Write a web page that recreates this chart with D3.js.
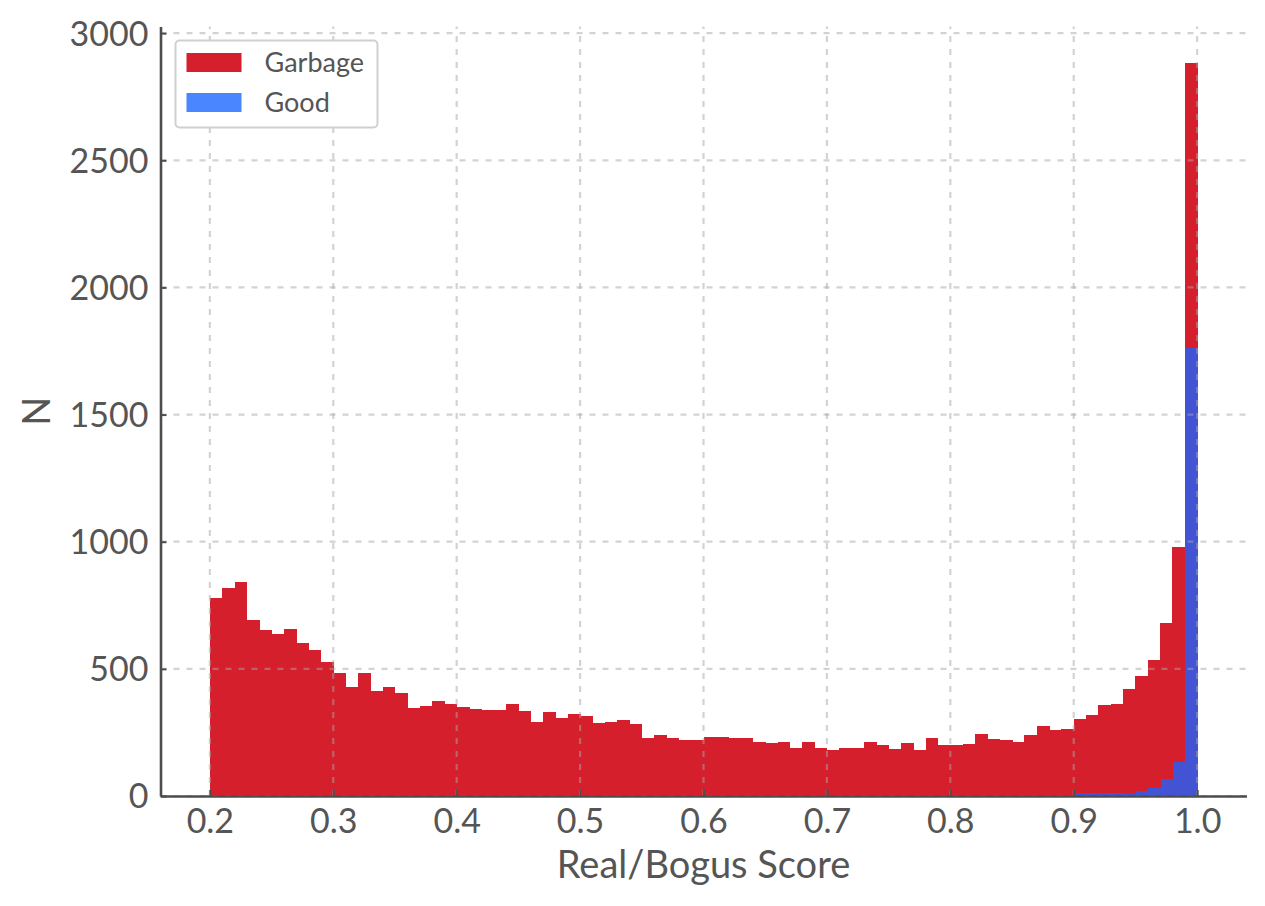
<!DOCTYPE html>
<html>
<head>
<meta charset="utf-8">
<script src="https://cdn.jsdelivr.net/npm/d3@7"></script>
<style>
  body { margin: 0; background: #fff; }
  svg text { font-family: Lato, "Open Sans", sans-serif; }
</style>
</head>
<body>
<svg id="chart" width="1265" height="906"></svg>
<script>
// histogram bins: 0.20 .. 1.00, width 0.01
var binStart = 0.2;
var binWidth = 0.01;

// Good counts per bin (bottom of stack)
var goodCounts = [
    0, 0, 0, 0, 0, 0, 0, 0, 0, 0,
    0, 0, 0, 0, 0, 0, 0, 0, 0, 0,
    0, 0, 0, 0, 0, 0, 0, 0, 0, 0,
    0, 0, 0, 0, 0, 0, 0, 0, 0, 0,
    0, 0, 0, 5, 0, 0, 0, 0, 0, 0,
    0, 0, 0, 0, 0, 0, 0, 0, 0, 0,
    0, 0, 0, 0, 0, 0, 0, 0, 5, 5,
    13, 13, 13, 13, 8, 20, 31, 67, 134, 1763
];

// Garbage counts per bin (stacked on top of Good)
var garbageCounts = [
    777, 817, 841, 692, 653, 637, 657, 602, 574, 527,
    482, 429, 482, 413, 429, 405, 347, 354, 374, 362,
    350, 342, 338, 338, 362, 334, 291, 330, 307, 322,
    315, 287, 291, 299, 283, 228, 240, 228, 220, 220,
    232, 232, 228, 223, 212, 208, 212, 189, 212, 189,
    181, 189, 189, 212, 200, 185, 208, 181, 228, 200,
    200, 204, 244, 224, 220, 212, 240, 275, 255, 258,
    290, 305, 345, 349, 413, 452, 504, 613, 845, 1119
];

var xTicks = [0.2, 0.3, 0.4, 0.5, 0.6, 0.7, 0.8, 0.9, 1.0];
var yTicks = [0, 500, 1000, 1500, 2000, 2500, 3000];
var legendLabels = ['Garbage', 'Good'];

var svg = d3.select('#chart');

var margin = { left: 160.5, right: 1246.5, top: 26.5, bottom: 796 };

var rows = goodCounts.map(function (g, i) {
    return { x0: binStart + i * binWidth, good: g, garbage: garbageCounts[i] };
});

var x = d3.scaleLinear().domain([0.16, 1.04]).range([margin.left, margin.right]);
var yMax = d3.max(rows, function (d) { return d.good + d.garbage; }) * 1.05;
var y = d3.scaleLinear().domain([0, yMax]).range([margin.bottom, margin.top]);

var colours = { garbage: '#d61f2c', good: '#4253d4' };

var stack = d3.stack().keys(['good', 'garbage']);
var layers = stack(rows);

// bars
svg.append('g')
    .attr('shape-rendering', 'crispEdges')
    .selectAll('g')
    .data(layers)
    .join('g')
    .attr('fill', function (d) { return colours[d.key]; })
    .selectAll('rect')
    .data(function (d) { return d; })
    .join('rect')
    .attr('x', function (d) { return x(d.data.x0); })
    .attr('width', function (d) { return x(d.data.x0 + binWidth) - x(d.data.x0) + 0.5; })
    .attr('y', function (d) { return y(d[1]); })
    .attr('height', function (d) { return Math.max(0, y(d[0]) - y(d[1])); });

// grid (drawn above bars, semi transparent)
var grid = svg.append('g')
    .attr('stroke', '#a8a8a8')
    .attr('stroke-opacity', 0.5)
    .attr('stroke-width', 2.2)
    .attr('stroke-dasharray', '6,7');

grid.selectAll('line.v')
    .data(xTicks)
    .join('line')
    .attr('class', 'v')
    .attr('x1', function (d) { return x(d); })
    .attr('x2', function (d) { return x(d); })
    .attr('y1', margin.bottom)
    .attr('y2', margin.top);

grid.selectAll('line.h')
    .data(yTicks)
    .join('line')
    .attr('class', 'h')
    .attr('x1', margin.left)
    .attr('x2', margin.right)
    .attr('y1', function (d) { return y(d); })
    .attr('y2', function (d) { return y(d); });

// axes
var xAxis = d3.axisBottom(x)
    .tickValues(xTicks)
    .tickFormat(d3.format('.1f'))
    .tickSizeInner(-6)
    .tickSizeOuter(0)
    .tickPadding(13);

var yAxis = d3.axisLeft(y)
    .tickValues(yTicks)
    .tickFormat(d3.format('d'))
    .tickSizeInner(-6)
    .tickSizeOuter(0)
    .tickPadding(12);

var gx = svg.append('g')
    .attr('transform', 'translate(0,' + margin.bottom + ')')
    .call(xAxis);

var gy = svg.append('g')
    .attr('transform', 'translate(' + margin.left + ',0)')
    .call(yAxis);

[gx, gy].forEach(function (g) {
    g.select('.domain').attr('stroke', '#4d4d4d').attr('stroke-width', 2.6);
    g.selectAll('.tick line').attr('stroke', '#4d4d4d').attr('stroke-width', 2);
    g.selectAll('.tick text')
        .attr('fill', '#555555')
        .style('font-size', '34px');
});
gx.selectAll('.tick text').attr('dy', '0.71em');
gy.selectAll('.tick text').attr('dy', '0.35em');

// axis labels
svg.append('text')
    .attr('x', (x(0.16) + x(1.04)) / 2)
    .attr('y', 878)
    .attr('text-anchor', 'middle')
    .attr('fill', '#555555')
    .style('font-size', '38px')
    .text('Real/Bogus Score');

svg.append('text')
    .attr('transform', 'translate(50,' + (margin.top + margin.bottom) / 2 + ') rotate(-90)')
    .attr('text-anchor', 'middle')
    .attr('fill', '#555555')
    .style('font-size', '38px')
    .text('N');

// legend
var legend = svg.append('g').attr('transform', 'translate(175.5,40.5)');

legend.append('rect')
    .attr('width', 202)
    .attr('height', 87)
    .attr('rx', 4)
    .attr('fill', '#ffffff')
    .attr('stroke', '#d0d0d0')
    .attr('stroke-width', 2);

var legendColours = ['#d61f2c', '#4a86ff'];

legendLabels.forEach(function (label, i) {
    legend.append('rect')
        .attr('x', 11)
        .attr('y', 12.5 + i * 40)
        .attr('width', 55)
        .attr('height', 19)
        .attr('fill', legendColours[i]);
    legend.append('text')
        .attr('x', 89)
        .attr('y', 22 + i * 40)
        .attr('dy', '0.35em')
        .attr('fill', '#555555')
        .style('font-size', '27px')
        .text(label);
});
</script>
</body>
</html>
